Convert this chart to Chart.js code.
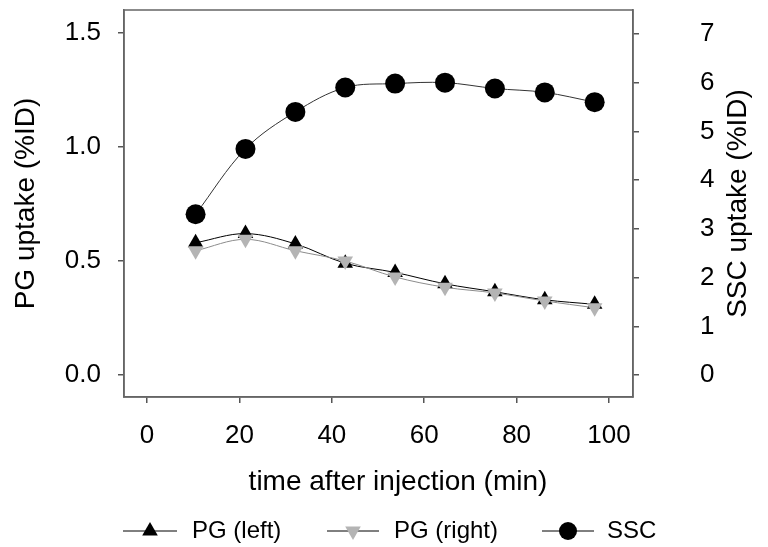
<!DOCTYPE html>
<html>
<head>
<meta charset="utf-8">
<script src="https://cdn.jsdelivr.net/npm/chart.js@4/dist/chart.umd.min.js"></script>
<style>
  body { margin: 0; background: #fff; }
  #wrap { width: 768px; height: 547px; }
</style>
</head>
<body>
<div id="wrap"><canvas id="uptakeChart" width="768" height="547"></canvas></div>
<script>
// time points (min)
const times = [10.5, 21.3, 32.1, 42.9, 53.7, 64.5, 75.3, 86.1, 96.9];
// PG uptake, left axis (%ID)
const pgLeft = [0.58, 0.62, 0.575, 0.49, 0.45, 0.40, 0.365, 0.33, 0.31];
const pgRight = [0.545, 0.595, 0.545, 0.50, 0.43, 0.385, 0.36, 0.325, 0.295];
// SSC uptake, right axis (%ID)
const ssc = [3.3, 4.64, 5.4, 5.9, 5.98, 6.0, 5.88, 5.8, 5.6];

const xTicks = [0, 20, 40, 60, 80, 100];
const leftTicks = [0, 0.5, 1.0, 1.5];
const rightTicks = [0, 1, 2, 3, 4, 5, 6, 7];

const legendItems = ['PG (left)', 'PG (right)', 'SSC'];

const FONT = "'Liberation Sans', Arial, sans-serif";

function pts(ys) {
    return times.map((t, i) => ({ x: t, y: ys[i] }));
}

// rahmen um die plotfläche + titel unten und rechts
const boxPlugin = {
    id: 'box',
    afterDraw(chart) {
        const { ctx, chartArea: a } = chart;
        ctx.save();
        ctx.strokeStyle = '#666';
        ctx.lineWidth = 1.5;
        ctx.strokeRect(a.left, a.top, a.right - a.left, a.bottom - a.top);
        ctx.fillStyle = '#000';
        ctx.font = '28px ' + FONT;
        ctx.textAlign = 'center';
        ctx.textBaseline = 'middle';
        ctx.fillText('time after injection (min)', 398, 482);
        ctx.translate(738, (a.top + a.bottom) / 2);
        ctx.rotate(-Math.PI / 2);
        ctx.fillText('SSC uptake (%ID)', 0, 0);
        ctx.restore();
    }
};

// legende unten, linie mit marker
const legendPlugin = {
    id: 'lineLegend',
    afterDraw(chart) {
        const ctx = chart.ctx;
        const y = 531;
        const spots = [
            { x0: 123, x1: 177, text: 192, mark: 'up' },
            { x0: 327, x1: 379, text: 394, mark: 'down' },
            { x0: 542, x1: 594, text: 607, mark: 'circle' }
        ];
        ctx.save();
        spots.forEach((s, i) => {
            ctx.strokeStyle = '#000';
            ctx.lineWidth = 1;
            ctx.beginPath();
            ctx.moveTo(s.x0, y);
            ctx.lineTo(s.x1, y);
            ctx.stroke();
            const cx = (s.x0 + s.x1) / 2;
            ctx.beginPath();
            if (s.mark === 'up') {
                ctx.fillStyle = '#000';
                ctx.moveTo(cx, y - 9); ctx.lineTo(cx + 7.8, y + 4.5); ctx.lineTo(cx - 7.8, y + 4.5);
            } else if (s.mark === 'down') {
                ctx.fillStyle = '#b4b4b4';
                ctx.moveTo(cx, y + 9); ctx.lineTo(cx + 7.8, y - 4.5); ctx.lineTo(cx - 7.8, y - 4.5);
            } else {
                ctx.fillStyle = '#000';
                ctx.arc(cx, y, 9, 0, Math.PI * 2);
            }
            ctx.closePath();
            ctx.fill();
            ctx.fillStyle = '#000';
            ctx.font = '24px ' + FONT;
            ctx.textBaseline = 'middle';
            ctx.fillText(legendItems[i], s.text, y);
        });
        ctx.restore();
    }
};

const tickGrid = {
    drawOnChartArea: false,
    drawTicks: true,
    tickLength: 6,
    color: '#555',
    lineWidth: 1.5
};

// keine extra-ränder durch die tick-beschriftung
function noPad(s) {
    s.paddingTop = 0; s.paddingBottom = 0; s.paddingLeft = 0; s.paddingRight = 0;
}

new Chart(document.getElementById('uptakeChart'), {
    type: 'line',
    data: {
        datasets: [
            {
                label: legendItems[0],
                data: pts(pgLeft),
                yAxisID: 'yL',
                borderColor: '#000',
                borderWidth: 1,
                backgroundColor: '#000',
                pointStyle: 'triangle',
                pointRadius: 9,
                pointBorderWidth: 0,
                tension: 0.35,
                order: 1
            },
            {
                label: legendItems[1],
                data: pts(pgRight),
                yAxisID: 'yL',
                borderColor: '#8c8c8c',
                borderWidth: 1,
                backgroundColor: '#b4b4b4',
                pointStyle: 'triangle',
                pointRotation: 180,
                pointRadius: 9,
                pointBorderWidth: 0,
                tension: 0.35,
                order: 0
            },
            {
                label: legendItems[2],
                data: pts(ssc),
                yAxisID: 'yR',
                borderColor: '#333',
                borderWidth: 1,
                backgroundColor: '#000',
                pointStyle: 'circle',
                pointRadius: 10,
                pointBorderWidth: 0,
                tension: 0.35,
                order: 2
            }
        ]
    },
    options: {
        responsive: false,
        animation: false,
        layout: { padding: { top: 8, left: 0, right: 0, bottom: 0 } },
        plugins: {
            legend: { display: false },
            tooltip: { enabled: false }
        },
        scales: {
            x: {
                type: 'linear',
                min: -5,
                max: 105.2,
                afterFit: s => { s.height = 150; noPad(s); },
                afterBuildTicks: s => { s.ticks = xTicks.map(v => ({ value: v })); },
                grid: tickGrid,
                border: { color: '#666', width: 1.5 },
                ticks: { color: '#000', font: { family: FONT, size: 26 }, padding: 17, maxRotation: 0 }
            },
            yL: {
                type: 'linear',
                position: 'left',
                min: -0.096,
                max: 1.6,
                afterFit: s => { s.width = 124; noPad(s); },
                afterBuildTicks: s => { s.ticks = leftTicks.map(v => ({ value: v })); },
                grid: tickGrid,
                border: { color: '#666', width: 1.5 },
                ticks: {
                    color: '#000',
                    font: { family: FONT, size: 26 },
                    padding: 17,
                    callback: v => v.toFixed(1)
                },
                title: {
                    display: true,
                    text: 'PG uptake (%ID)',
                    color: '#000',
                    font: { family: FONT, size: 28 },
                    padding: { top: 9, bottom: 0 }
                }
            },
            yR: {
                type: 'linear',
                position: 'right',
                min: -0.449,
                max: 7.49,
                afterFit: s => { s.width = 135; noPad(s); },
                afterBuildTicks: s => { s.ticks = rightTicks.map(v => ({ value: v })); },
                grid: tickGrid,
                border: { color: '#666', width: 1.5 },
                ticks: { color: '#000', font: { family: FONT, size: 26 }, padding: 61 }
            }
        }
    },
    plugins: [boxPlugin, legendPlugin]
});
</script>
</body>
</html>
